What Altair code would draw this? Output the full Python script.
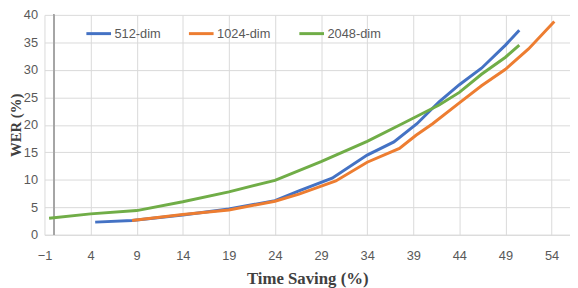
import altair as alt
import pandas as pd

series_names = ["512-dim", "1024-dim", "2048-dim"]
series_colors = ["#4472C4", "#ED7D31", "#70AD47"]

x_512 = [4.5, 8.5, 14, 19, 24, 26.6, 30.2, 34, 36.9, 39.4, 41.8, 44, 46.4, 49, 50.5]
y_512 = [2.3, 2.6, 3.6, 4.7, 6.2, 8.0, 10.3, 14.5, 16.9, 20.2, 24.2, 27.3, 30.3, 34.5, 37.2]

x_1024 = [8.5, 14, 19, 24, 26.6, 30.6, 34, 37.5, 39.3, 41.1, 44, 46.4, 49, 51.5, 54.3]
y_1024 = [2.6, 3.7, 4.5, 6.1, 7.4, 9.8, 13.2, 15.7, 18.1, 20.2, 24.0, 27.1, 30.1, 33.8, 38.8]

x_2048 = [-0.5, 4, 9, 14, 19, 24, 29, 34, 37.8, 41.8, 44, 46.4, 49, 50.5]
y_2048 = [3.0, 3.8, 4.4, 6.0, 7.8, 9.9, 13.3, 17.0, 20.2, 23.6, 25.9, 29.2, 32.3, 34.5]

x_ticks = [-1, 4, 9, 14, 19, 24, 29, 34, 39, 44, 49, 54]
y_ticks = [0, 5, 10, 15, 20, 25, 30, 35, 40]

rows = []
for name, xs, ys in zip(series_names, [x_512, x_1024, x_2048], [y_512, y_1024, y_2048]):
    for i, (a, b) in enumerate(zip(xs, ys)):
        rows.append({"series": name, "x": a, "y": b, "i": i})
df = pd.DataFrame(rows)

LABEL_FONT = "Liberation Sans"
TITLE_FONT = "Liberation Serif"

x_enc = alt.X(
    "x:Q",
    scale=alt.Scale(domain=[-1, 56], nice=False, zero=False),
    axis=alt.Axis(
        values=x_ticks, title="Time Saving (%)", grid=True, gridColor="#d9d9d9",
        domainColor="#d9d9d9", ticks=False, labelPadding=15, labelFont=LABEL_FONT,
        labelFontSize=13, labelColor="#595959", titleFont=TITLE_FONT,
        titleFontWeight="bold", titleFontSize=17, titleColor="#404040",
        titleY=49, titleBaseline="alphabetic", labelFlush=False,
    ),
)
y_enc = alt.Y(
    "y:Q",
    scale=alt.Scale(domain=[0, 40], nice=False),
    axis=alt.Axis(
        values=y_ticks, title="WER (%)", grid=True, gridColor="#d9d9d9",
        domain=False, ticks=False, labelPadding=7, labelFont=LABEL_FONT,
        labelFontSize=13, labelColor="#595959", titleFont=TITLE_FONT,
        titleFontWeight="bold", titleFontSize=15, titleColor="#404040",
        titleX=-36, titleBaseline="top", labelFlush=False,
    ),
)
color_enc = alt.Color(
    "series:N",
    scale=alt.Scale(domain=series_names, range=series_colors),
    legend=alt.Legend(
        orient="none", legendX=41, legendY=5, direction="horizontal", title=None,
        symbolType="stroke", symbolSize=625, symbolStrokeWidth=3,
        labelFont=LABEL_FONT, labelFontSize=13, labelColor="#595959",
        labelOffset=2, columnPadding=22, padding=0,
    ),
)

base = alt.Chart(df)
rule = base.mark_rule(color="#a6a6a6", strokeWidth=1).encode(x=alt.X(datum=0))
lines = [
    base.transform_filter(alt.datum.series == n)
    .mark_line(strokeWidth=3)
    .encode(x=x_enc, y=y_enc, color=color_enc, order="i:Q")
    for n in series_names
]

chart = (
    alt.layer(rule, *lines)
    .properties(
        width=533, height=223,
        autosize=alt.AutoSizeParams(type="none"),
        padding={"left": 37, "top": 5, "right": 0, "bottom": 52},
        background="white",
    )
    .configure_view(stroke=None)
)

chart.save("out.html", embed_options={"renderer": "svg", "actions": False})
